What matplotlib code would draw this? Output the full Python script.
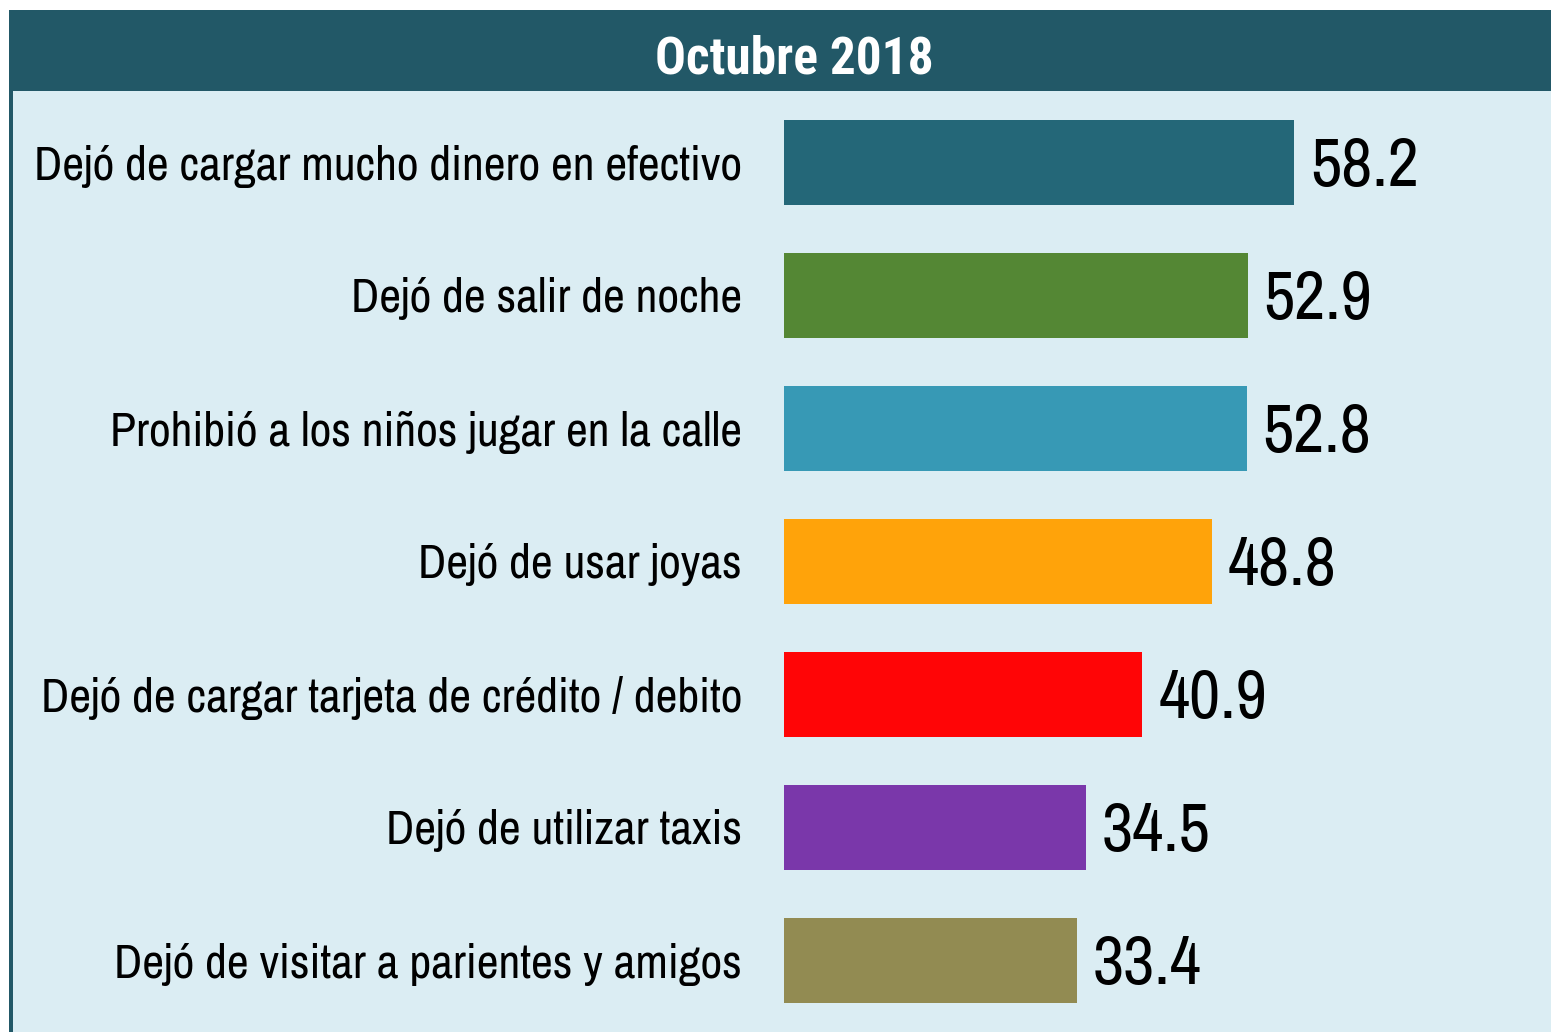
import matplotlib
matplotlib.use("Agg")
import matplotlib.pyplot as plt
from matplotlib.patches import Rectangle

# Data
titulo = "Octubre 2018"
categorias = [
    "Dejó de cargar mucho dinero en efectivo",
    "Dejó de salir de noche",
    "Prohibió a los niños jugar en la calle",
    "Dejó de usar joyas",
    "Dejó de cargar tarjeta de crédito / debito",
    "Dejó de utilizar taxis",
    "Dejó de visitar a parientes y amigos",
]
valores = [58.2, 52.9, 52.8, 48.8, 40.9, 34.5, 33.4]
colores = ["#246778", "#548734", "#3799B5", "#FFA30A", "#FF0506", "#7A37AA", "#928B52"]

plt.rcParams['font.family'] = ['Archivo Narrow', 'DejaVu Sans']

W, H = 1551, 1032
fig = plt.figure(figsize=(W / 100, H / 100), dpi=100)
fig.patch.set_facecolor("white")

# background / header, in pixel coordinates
bg = fig.add_axes([0, 0, 1, 1])
bg.set_xlim(0, W)
bg.set_ylim(H, 0)
bg.axis("off")
bg.add_patch(Rectangle((9, 91), W - 9, H - 91, color="#DBEDF3", lw=0))
bg.add_patch(Rectangle((9, 91), 4, H - 91, color="#225867", lw=0))
bg.add_patch(Rectangle((9, 10), W - 9, 81, color="#225867", lw=0))
bg.text(794, 60, titulo, color="white", fontsize=37, fontweight="bold",
        family=['Roboto Condensed', 'DejaVu Sans'], ha="center", va="center")

# bar area
x0 = 784
px_per_unit = 8.763
ax = fig.add_axes([x0 / W, 0, 1 - x0 / W, (H - 91) / H])
ax.set_xlim(0, (W - x0) / px_per_unit)
ax.set_ylim(len(valores) - 1 + 0.535, -0.54)
ax.axis("off")

pos = list(range(len(valores)))
ax.barh(pos, valores, height=0.64, color=colores)
for i, v in enumerate(valores):
    ax.text(v + 1.8, i + 0.035, f"{v:.1f}", fontsize=49, va="center", ha="left", color="black")

# category labels
for i, c in enumerate(categorias):
    bg.text(742, 166 + i * 133, c, fontsize=34.3, ha="right", va="center", color="black")

fig.savefig("out.png", dpi=100)
